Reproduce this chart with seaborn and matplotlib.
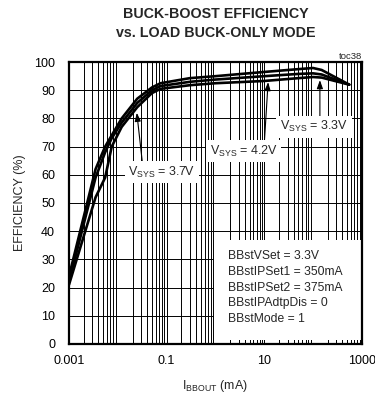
import matplotlib
matplotlib.use("Agg")
import matplotlib.pyplot as plt
from matplotlib.patches import Rectangle
import numpy as np
import pandas as pd
import seaborn as sns

# load current (mA) and efficiency (%)
load_ma = [0.001, 0.0035, 0.0055, 0.0075, 0.012, 0.025, 0.05, 0.075,
           0.3, 1, 10, 50, 100, 150, 550]
eff_33 = [24, 62, 70, 74, 80, 87, 91, 92.5, 94.3, 95, 96.5, 97.5, 97.9, 97.2, 92]
eff_37 = [22, 59, 68, 73, 78.5, 85.5, 90, 91.5, 93, 93.8, 95, 95.8, 96, 95.6, 92]
eff_42 = [21, 52, 59, 70, 77, 84, 89, 90.5, 91.8, 92.5, 93.3, 94.3, 94.7, 94.5, 92]

series = {"3.3V": eff_33, "3.7V": eff_37, "4.2V": eff_42}
conditions = ["BBstVSet = 3.3V", "BBstIPSet1 = 350mA", "BBstIPSet2 = 375mA",
              "BBstIPAdtpDis = 0", "BBstMode = 1"]
x_ticks = [0.001, 0.1, 10, 1000]
x_ticklabels = ["0.001", "0.1", "10", "1000"]
y_ticks = list(range(0, 101, 10))

df = pd.concat([pd.DataFrame({"load": load_ma, "eff": v, "vsys": k})
                for k, v in series.items()])

sns.set_style("white")
plt.rcParams["font.family"] = ["Liberation Sans", "DejaVu Sans"]
plt.rcParams["mathtext.fontset"] = "custom"
plt.rcParams["mathtext.rm"] = "Liberation Sans"
plt.rcParams["mathtext.it"] = "Liberation Sans"

fig = plt.figure(figsize=(3.75, 3.98), dpi=100)
ax = fig.add_axes([0.184, 0.136, 0.781, 0.708])

sns.lineplot(data=df, x="load", y="eff", hue="vsys",
             palette=["black"] * 3, linewidth=1.9, legend=False, ax=ax, zorder=4)

ax.set_xscale("log")
ax.set_xlim(0.001, 1000)
ax.set_ylim(0, 100)
ax.set_xticks(x_ticks)
ax.set_xticklabels(x_ticklabels)
minor = [m * 10.0 ** e for e in range(-3, 3) for m in range(2, 10)]
ax.set_xticks(minor, minor=True)
ax.set_xticklabels([], minor=True)
ax.set_yticks(y_ticks)
ax.tick_params(which="both", length=0, labelsize=9, colors="black")
ax.tick_params(axis="x", pad=8)
ax.tick_params(axis="y", pad=10)

ax.grid(which="both", axis="x", color="black", linewidth=0.7, zorder=1)
ax.grid(which="major", axis="y", color="black", linewidth=0.7, zorder=1)
ax.set_axisbelow(True)
for sp in ax.spines.values():
    sp.set_linewidth(1.6)
    sp.set_color("black")
    sp.set_zorder(6)

# white panel behind the test conditions
ax.add_patch(Rectangle((0.95, 1.5), 1000 - 0.95, 35.5, facecolor="white",
                       edgecolor="none", zorder=2))
ax.text(1.84, 33.2, "\n".join(conditions), fontsize=8.7, va="top", ha="left",
        linespacing=1.4, zorder=3)

box = dict(facecolor="white", edgecolor="none", pad=2.5)
arrow = dict(arrowstyle="-|>,head_length=0.5,head_width=0.18", color="black",
             lw=0.8, shrinkA=0, shrinkB=0)
ax.annotate("", xy=(138, 93.6), xytext=(138, 80.5), arrowprops=arrow, zorder=5)
ax.annotate("", xy=(12, 92.9), xytext=(10, 71), arrowprops=arrow, zorder=5)
ax.annotate("", xy=(0.0245, 82), xytext=(0.032, 64), arrowprops=arrow, zorder=5)
ax.text(105, 77, r"V$_{\rm SYS}$ = 3.3V", fontsize=9, ha="center", va="center",
        bbox=box, zorder=5)
ax.text(3.8, 68.4, r"V$_{\rm SYS}$ = 4.2V", fontsize=9, ha="center", va="center",
        bbox=box, zorder=5)
ax.text(0.08, 61, r"V$_{\rm SYS}$ = 3.7V", fontsize=9, ha="center", va="center",
        bbox=box, zorder=5)

ax.text(1.0, 1.005, "toc38", transform=ax.transAxes, fontsize=6.8, ha="right",
        va="bottom")
ax.set_title("BUCK-BOOST EFFICIENCY\nvs. LOAD BUCK-ONLY MODE", fontsize=10.3,
             fontweight="bold", pad=18, linespacing=1.5)
ax.set_ylabel("EFFICIENCY (%)", fontsize=9, labelpad=6)
ax.set_xlabel(r"I$_{\rm BBOUT}$ (mA)", fontsize=9, labelpad=8)

fig.savefig("out.png", dpi=100)
